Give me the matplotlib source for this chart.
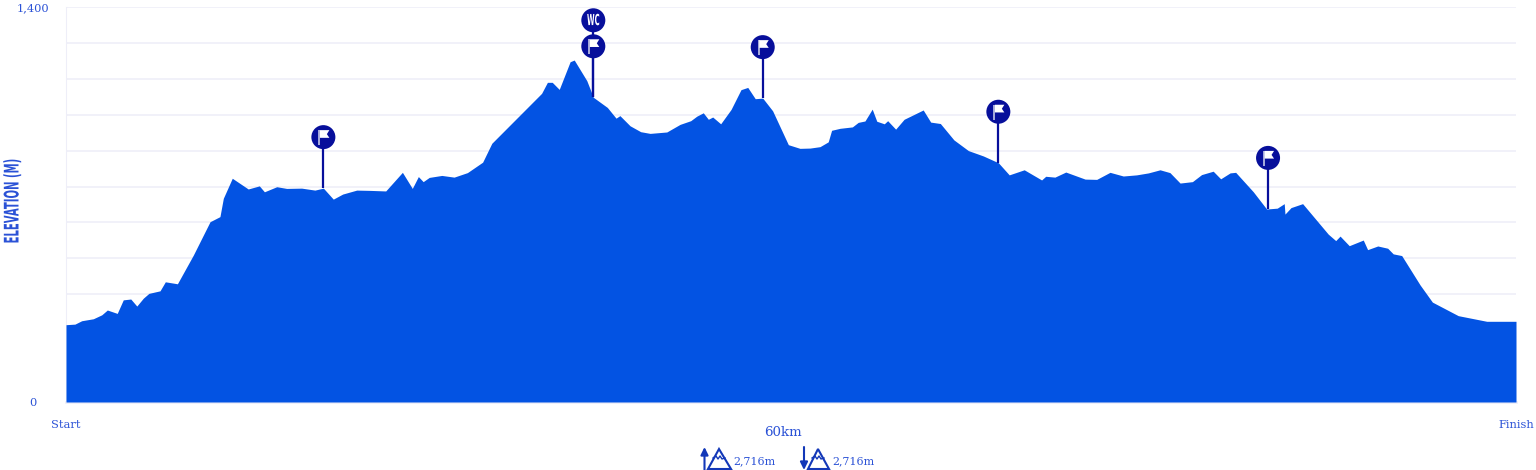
import numpy as np
import matplotlib
matplotlib.use('Agg')
import matplotlib.pyplot as plt
from matplotlib.patches import Circle, Polygon
from matplotlib.patheffects import AbstractPathEffect
from matplotlib.transforms import Affine2D

# elevation profile
km = [0, 0.37, 0.65, 1.13, 1.48, 1.71, 2.12, 2.37, 2.68, 2.93, 3.20, 3.43, 3.89, 4.11, 4.61,
      5.27, 5.96, 6.37, 6.51, 6.88, 7.54, 8.00, 8.21, 8.72, 9.13, 9.75, 10.30, 10.65, 11.06, 11.45,
      12.03, 12.58, 13.23, 13.92, 14.33, 14.58, 14.78, 15.03, 15.55, 16.06, 16.61, 17.24, 17.62,
      19.68, 19.92, 20.12, 20.41, 20.86, 21.03, 21.55, 21.82, 22.40, 22.76, 22.92, 23.34, 23.78,
      24.17, 24.86, 25.41, 25.85, 26.10, 26.37, 26.58, 26.76, 27.09, 27.52, 27.93, 28.21, 28.52,
      28.83, 29.24, 29.89, 30.37, 30.79, 31.20, 31.54, 31.68, 32.03, 32.54, 32.78, 33.06, 33.36,
      33.55, 33.86, 34.00, 34.33, 34.68, 35.47, 35.78, 36.18, 36.74, 37.34, 37.96, 38.58, 39.03,
      39.65, 40.37, 40.54, 40.92, 41.37, 42.17, 42.65, 43.20, 43.75, 44.30, 44.79, 45.27, 45.68,
      46.10, 46.61, 46.99, 47.47, 47.78, 48.17, 48.40, 49.13, 49.68, 50.12, 50.41, 50.44, 50.69,
      51.17, 52.23, 52.54, 52.72, 53.10, 53.68, 53.86, 54.28, 54.69, 54.92, 55.27, 56.03, 56.54,
      57.61, 58.79, 60]
elevation = [274, 276, 288, 295, 309, 326, 314, 362, 365, 340, 368, 385, 394, 426, 419,
             521, 639, 657, 722, 793, 755, 766, 745, 763, 757, 758, 751, 758, 719, 737,
             751, 750, 748, 814, 757, 799, 781, 796, 803, 797, 813, 850, 917,
             1094, 1133, 1133, 1108, 1206, 1212, 1139, 1080, 1044, 1006, 1015, 979, 958,
             952, 957, 984, 997, 1013, 1025, 1002, 1010, 986, 1037, 1107, 1115, 1075,
             1077, 1032, 912, 899, 900, 905, 922, 963, 970, 975, 991, 996, 1038,
             995, 986, 997, 967, 1002, 1035, 992, 987, 929, 891, 872, 848, 805,
             823, 787, 800, 797, 815, 790, 789, 814, 801, 805, 812, 823, 813,
             776, 781, 806, 818, 791, 812, 814, 745, 684, 687, 703, 666, 689,
             703, 595, 572, 588, 554, 574, 540, 553, 545, 525, 519, 415, 354,
             306, 286, 286]

flag_km = [10.65, 21.82, 28.83, 38.58, 49.74]
wc_km = [21.82]
grid_levels = np.linspace(0, 1400, 12)
y_labels = ['0'] + [''] * 10 + ['1,400']

BLUE = '#0353e3'
NAVY = '#070f9b'
TEXT = '#2b52d6'
ARROW = '#1338b8'
GRID = '#eeeef8'
SERIF = 'DejaVu Serif'


class Squeeze(AbstractPathEffect):
    """Condense text around a display point, no condensed font is installed"""
    def __init__(self, sx, sy, cx, cy):
        super().__init__()
        self.tf = Affine2D().translate(-cx, -cy).scale(sx, sy).translate(cx, cy)

    def draw_path(self, renderer, gc, tpath, affine, rgbFace=None):
        renderer.draw_path(gc, tpath, affine + self.tf, rgbFace)


fig = plt.figure(figsize=(15.36, 4.70), dpi=100, facecolor='white')
ax = fig.add_axes([66 / 1536, 1 - 402 / 470, 1450 / 1536, 395 / 470])
ax.fill_between(km, 0, elevation, color=BLUE, linewidth=0, zorder=3)
ax.set_xlim(0, 60)
ax.set_ylim(0, 1400)

for s in ['top', 'right']:
    ax.spines[s].set_visible(False)
ax.spines['left'].set_color(GRID)
ax.spines['bottom'].set_color(GRID)
ax.spines['bottom'].set_linewidth(2)
ax.set_yticks(grid_levels, y_labels)
ax.set_xticks([0, 60], ['Start', 'Finish'])
ax.grid(axis='y', color=GRID, lw=1.1, zorder=1)
ax.tick_params(axis='y', length=0, pad=24, labelsize=8.2, labelcolor=TEXT)
ax.tick_params(axis='x', length=0, pad=13, labelsize=8.2, labelcolor=TEXT)
for lab in ax.get_xticklabels() + ax.get_yticklabels():
    lab.set_family(SERIF)
for lab in ax.get_yticklabels():
    lab.set_ha('center')

# overlay in image pixels for pins and icons
ov = fig.add_axes([0, 0, 1, 1], facecolor='none')
ov.set_xlim(0, 1536)
ov.set_ylim(470, 0)
ov.axis('off')


def to_px(x, y):
    dx, dy = ax.transData.transform((x, y))
    return dx, 470 - dy


def draw_pin(x, offset):
    """Round badge above the profile, stem going down to the curve"""
    px, py = to_px(x, np.interp(x, km, elevation))
    ov.plot([px, px], [py, py - offset], color=NAVY, lw=1.6, zorder=4, solid_capstyle='butt')
    ov.add_patch(Circle((px, py - offset), 12, color=NAVY, lw=0, zorder=5))
    return px, py - offset


for x in flag_km:
    cx, cy = draw_pin(x, 51)
    ov.plot([cx - 4, cx - 4], [cy - 7, cy + 8], color='#d5d7ee', lw=1.1, zorder=6, solid_capstyle='butt')
    ov.add_patch(Polygon([(cx - 3.5, cy - 7), (cx + 6, cy - 7), (cx + 3.5, cy - 3),
                          (cx + 6, cy + 0.7), (cx - 3.5, cy + 0.7)], color='white', lw=0, zorder=6))

for x in wc_km:
    cx, cy = draw_pin(x, 77)
    ov.text(cx, cy + 0.3, 'WC', color='white', fontsize=11, fontweight='bold', ha='center', va='center',
            zorder=6, path_effects=[Squeeze(0.45, 1, cx, 470 - cy)])

ov.text(13, 201, 'ELEVATION (M)', rotation=90, color=TEXT, fontsize=14.5, fontweight='bold',
        ha='center', va='center', path_effects=[Squeeze(1, 0.5, 13, 470 - 201)])
ov.text(783, 433, '60km', color=TEXT, fontsize=9.6, family=SERIF, ha='center', va='center')


def mountain(x0, x1, peak):
    ov.add_patch(Polygon([(x0, 469), (peak, 449), (x1, 469)], closed=True, fill=False,
                         edgecolor=ARROW, lw=1.5))
    ov.plot([peak - 6, peak - 3, peak - 1, peak + 1, peak + 3, peak + 6],
            [458, 456, 459, 456, 459, 458], color=ARROW, lw=1)


# ascent
ov.annotate('', xy=(704.5, 447), xytext=(704.5, 470),
            arrowprops=dict(arrowstyle='-|>,head_width=0.22,head_length=0.45', color=ARROW, lw=1.5,
                            shrinkA=0, shrinkB=0))
mountain(708, 731, 719)
ov.text(733, 461.5, '2,716m', color=TEXT, fontsize=7.9, family=SERIF, ha='left', va='center')
# descent
ov.annotate('', xy=(804, 470), xytext=(804, 447),
            arrowprops=dict(arrowstyle='-|>,head_width=0.22,head_length=0.45', color=ARROW, lw=1.5,
                            shrinkA=0, shrinkB=0))
mountain(808, 829, 818)
ov.text(832, 461.5, '2,716m', color=TEXT, fontsize=7.9, family=SERIF, ha='left', va='center')

fig.savefig('out.png', dpi=100)
